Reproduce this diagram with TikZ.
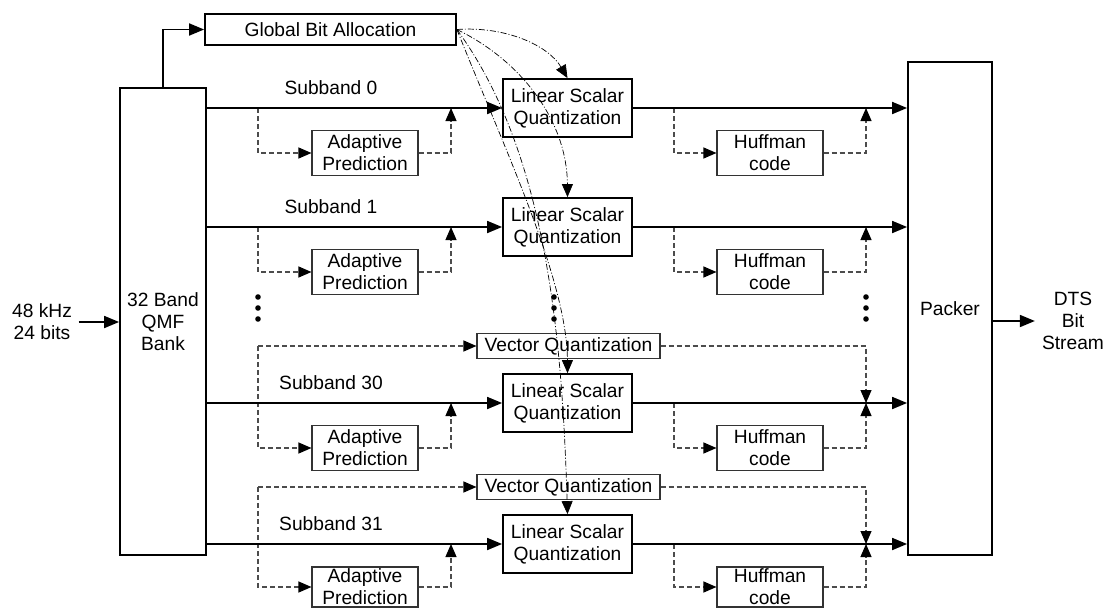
\documentclass[tikz,border=0pt]{standalone}
\usepackage{fontspec}
\setmainfont{Liberation Sans}
\usetikzlibrary{arrows.meta}
\newcommand{\fs}{\fontsize{19.2}{22}\selectfont}
\begin{document}
\begin{tikzpicture}[x=1pt,y=-1pt,
  lbl/.style={font=\fs, align=center, inner sep=0pt},
  bx/.style={draw, line width=1.8pt, align=center, font=\fs, inner sep=0pt},
  tbx/.style={draw=black!80, line width=1.1pt, align=center, font=\fs, inner sep=0pt},
  arr/.style={line width=1.8pt, -{Triangle[length=15pt,width=12pt]}},
  darr/.style={draw=black!70, line width=1.1pt, dash pattern=on 5pt off 3pt, -{Triangle[length=13pt,width=11pt,color=black]}},
  dd/.style={line width=0.7pt, dash pattern=on 6pt off 2pt on 1pt off 2pt, -{Triangle[length=13pt,width=11pt]}}]
\clip (0,0) rectangle (1103,608);
\fill[white] (0,0) rectangle (1103,608);

\node[bx, minimum width=251pt, minimum height=31pt] (gba) at (330.5,29.5) {Global Bit Allocation};
\node[bx, minimum width=86pt, minimum height=467pt] (qmf) at (163,321.5) {32 Band\\QMF\\Bank};
\node[bx, minimum width=84pt, minimum height=493pt] (pk) at (950,308.5) {Packer};
\node[lbl, inner xsep=6.5pt] (in) at (42,322) {48 kHz\\24 bits};
\node[lbl, inner xsep=7pt] (dts) at (1073,321) {DTS\\Bit\\Stream};

\coordinate (bl) at (258,0);
\coordinate (br) at (451,0);
\coordinate (hl) at (674,0);
\coordinate (hr) at (866,0);

\foreach \i/\m/\a/\h in {0/108/153/45,1/227/272/45,30/403/448/45,31/544/587/40}{
  \node[bx, minimum width=129pt, minimum height=58pt] (lsq\i) at (567.5,\m) {Linear Scalar\\Quantization};
  \node[tbx, minimum width=106pt, minimum height=\h pt] (ap\i) at (365,\a) {Adaptive\\Prediction};
  \node[tbx, minimum width=106pt, minimum height=\h pt] (hc\i) at (770,\a) {Huffman\\code};
  \node[lbl] (sb\i) at (331,\m-20) {Subband \i};
  \draw[darr] (hl |- lsq\i.east) |- (hc\i.west);
  \draw[darr] (hc\i.east) -| (hr |- lsq\i.east);
  \draw[darr] (ap\i.east) -| (br |- lsq\i.west);
}
\foreach \i in {0,1}{
  \draw[darr] (bl |- lsq\i.west) |- (ap\i.west);
}
\foreach \i/\m in {30/346,31/487}{
  \node[tbx, minimum width=183pt, minimum height=25pt] (vq\i) at (568.5,\m) {Vector Quantization};
  \draw[darr] (bl |- vq\i.west) -- (vq\i.west);
  \draw[darr] (bl |- vq\i.west) |- (ap\i.west);
  \draw[darr] (vq\i.east) -| (hr |- lsq\i.east);
}
\foreach \i in {0,1,30,31}{
  \draw[arr] (qmf.east |- lsq\i.west) -- (lsq\i.west);
  \draw[arr] (lsq\i.east) -- (lsq\i.east -| pk.west);
}

\draw[arr] (in.east) -- (in.east -| qmf.west);
\draw[arr] (qmf.north) |- (gba.west);
\draw[arr] (pk.east |- dts.west) -- (dts.west);

\foreach \x in {258,554,866}{
  \foreach \y in {297,308,319}{
    \fill (\x,\y) circle (2.8pt);
  }
}

\draw[dd] (gba.east) .. controls (505,26) and (548,45) .. (lsq0.north);
\draw[dd] (gba.east) .. controls (520,60) and (567,120) .. (lsq1.north);
\draw[dd] (gba.east) .. controls (505,150) and (567,280) .. (lsq30.north);
\draw[dd] (gba.east) .. controls (545,150) and (562,330) .. (lsq31.north);
\end{tikzpicture}
\end{document}
